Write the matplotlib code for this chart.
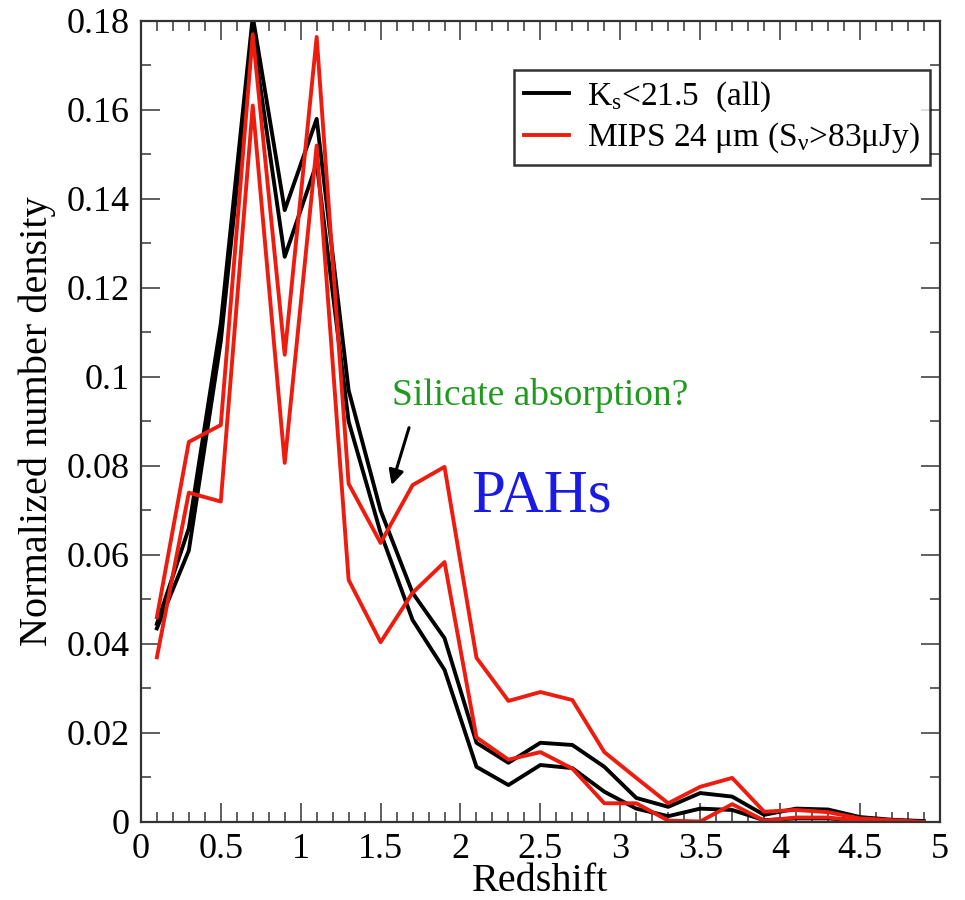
import matplotlib
matplotlib.use('Agg')
from matplotlib import pyplot as plt
from matplotlib.ticker import MultipleLocator, FuncFormatter

# redshift bin centres
redshift = [0.1, 0.3, 0.5, 0.7, 0.9, 1.1, 1.3, 1.5, 1.7, 1.9, 2.1, 2.3, 2.5,
            2.7, 2.9, 3.1, 3.3, 3.5, 3.7, 3.9, 4.1, 4.3, 4.5, 4.7, 4.9]

# Ks < 21.5 (all), two curves
ks_upper = [0.0445, 0.066, 0.112, 0.181, 0.1375, 0.158, 0.097, 0.070, 0.0515, 0.0413,
            0.0178, 0.0133, 0.0178, 0.0173, 0.0124, 0.0054, 0.0034, 0.0065, 0.0057,
            0.0016, 0.0030, 0.0028, 0.0011, 0.0005, 0.0002]
ks_lower = [0.0435, 0.061, 0.108, 0.177, 0.127, 0.148, 0.090, 0.065, 0.0454, 0.0342,
            0.0124, 0.0083, 0.0128, 0.0121, 0.0068, 0.0030, 0.0013, 0.0030, 0.0027,
            0.0004, 0.0008, 0.0008, 0.0003, 0.0001, 0.0]

# MIPS 24um, two curves
mips_upper = [0.046, 0.0854, 0.0892, 0.177, 0.105, 0.1764, 0.076, 0.0627, 0.0757, 0.0798,
              0.0369, 0.0272, 0.0292, 0.0274, 0.0157, 0.0099, 0.0042, 0.0079, 0.0099,
              0.0023, 0.0027, 0.0022, 0.0008, 0.0004, 0.0]
mips_lower = [0.037, 0.074, 0.072, 0.161, 0.0807, 0.152, 0.0544, 0.0404, 0.0515, 0.0584,
              0.019, 0.014, 0.0157, 0.012, 0.0042, 0.0042, 0.0003, 0.0001, 0.0040,
              0.0003, 0.0010, 0.0010, 0.0002, 0.0001, 0.0]

plt.rcParams['font.family'] = ['Liberation Serif', 'DejaVu Serif']
plt.rcParams['mathtext.fontset'] = 'custom'
plt.rcParams['mathtext.rm'] = 'Liberation Serif'
plt.rcParams['mathtext.it'] = 'Liberation Serif:italic'

fig = plt.figure(figsize=(9.65, 9.0), dpi=100)
ax = fig.add_axes([0.146, 0.0867, 0.828, 0.89])

lw = 2.8
ax.plot(redshift, ks_upper, color='black', linewidth=lw, label=r'K$_\mathrm{s}$<21.5  (all)')
ax.plot(redshift, ks_lower, color='black', linewidth=lw)
ax.plot(redshift, mips_upper, color='#ee1c0e', linewidth=lw,
        label=r'MIPS 24 μm (S$_\mathrm{ν}$>83μJy)')
ax.plot(redshift, mips_lower, color='#ee1c0e', linewidth=lw)

ax.set_xlim(0, 5)
ax.set_ylim(0, 0.18)

ax.xaxis.set_major_locator(MultipleLocator(0.5))
ax.xaxis.set_minor_locator(MultipleLocator(0.1))
ax.yaxis.set_major_locator(MultipleLocator(0.02))
ax.yaxis.set_minor_locator(MultipleLocator(0.01))
fmt = FuncFormatter(lambda v, p: '%g' % round(v, 4))
ax.xaxis.set_major_formatter(fmt)
ax.yaxis.set_major_formatter(fmt)

ax.tick_params(which='both', direction='in', top=True, right=True, color='#444444', width=1.2)
ax.tick_params(which='major', length=14, labelsize=26, pad=8)
ax.tick_params(which='minor', length=7)
for s in ax.spines.values():
    s.set_linewidth(1.6)
    s.set_color('#333333')

ax.set_xlabel('Redshift', fontsize=29, labelpad=-2)
ax.set_ylabel('Normalized number density', fontsize=29, labelpad=8)

# annotations
ax.text(1.57, 0.0937, 'Silicate absorption?', color='#1f9a1f', fontsize=27)
ax.text(2.07, 0.0697, 'PAHs', color='#1a1ae6', fontsize=44)
ax.annotate('', xy=(1.564, 0.0751), xytext=(1.683, 0.0892),
            arrowprops=dict(arrowstyle='-|>', color='black', lw=2.2, mutation_scale=22))

leg = ax.legend(loc='upper right', bbox_to_anchor=(0.9875, 0.939), fontsize=24,
                frameon=True, fancybox=False, handlelength=1.35, handletextpad=0.55,
                borderpad=0.3, labelspacing=0.2, borderaxespad=0)
leg.get_frame().set_edgecolor('black')
leg.get_frame().set_linewidth(1.8)

fig.savefig('out.png', dpi=100)
plt.close()
